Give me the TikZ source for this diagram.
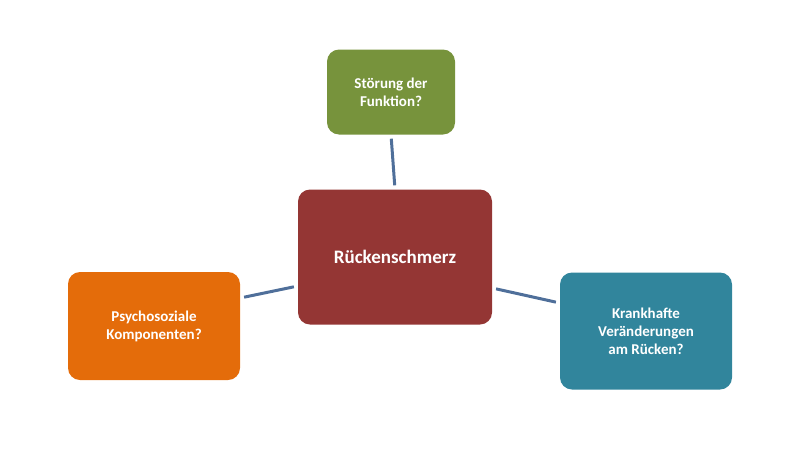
\documentclass[tikz,border=0pt]{standalone}
\usepackage{fontspec}
\setmainfont{Carlito}
\usetikzlibrary{positioning}
\definecolor{redbox}{HTML}{943634}
\definecolor{greenbox}{HTML}{77933C}
\definecolor{orangebox}{HTML}{E46C0A}
\definecolor{tealbox}{HTML}{31859C}
\definecolor{linkblue}{HTML}{4F6F9A}
\tikzset{
  box/.style={rounded corners=12pt,text=white,font=\bfseries\fontsize{15}{18}\selectfont,align=center,inner sep=0pt},
  link/.style={linkblue,line width=3pt,shorten <=4pt,shorten >=4pt}
}
\begin{document}
\begin{tikzpicture}[x=1pt,y=-1pt]
  \useasboundingbox (0,0) rectangle (800,450);
  \node[box,fill=redbox,minimum width=194pt,minimum height=135pt,font=\bfseries\fontsize{19}{22}\selectfont] (back) at (395,257) {Rückenschmerz};
  \node[box,fill=greenbox,minimum width=128pt,minimum height=85pt] (func) at (391,92) {Störung der\\Funktion?};
  \node[box,fill=orangebox,minimum width=172pt,minimum height=108pt] (psy) at (154,326) {Psychosoziale\\Komponenten?};
  \node[box,fill=tealbox,minimum width=172pt,minimum height=117pt] (path) at (646,331) {Krankhafte\\Veränderungen\\am Rücken?};

  \draw[link] (func.south) -- (back.north);
  \draw[link] (psy.east |- 0,298) -- (back.west |- 0,286);
  \draw[link] (back.east |- 0,288) -- (path.west |- 0,303);
\end{tikzpicture}
\end{document}
